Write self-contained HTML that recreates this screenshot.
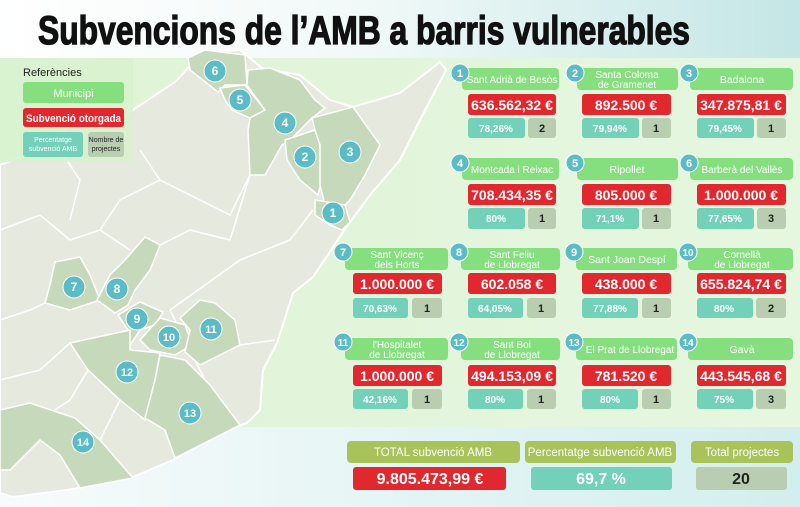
<!DOCTYPE html>
<html><head><meta charset="utf-8"><style>
html,body{margin:0;padding:0;width:800px;height:507px;overflow:hidden;background:#fff}
svg{display:block}
text{font-family:"Liberation Sans",sans-serif}
</style></head><body>
<svg width="800" height="507" viewBox="0 0 800 507" xmlns="http://www.w3.org/2000/svg">
<defs>
<linearGradient id="tb" x1="0" y1="0" x2="1" y2="0"><stop offset="0" stop-color="#ffffff"/><stop offset="0.45" stop-color="#f1f9f8"/><stop offset="1" stop-color="#c4e6e6"/></linearGradient>
<linearGradient id="gb" x1="0" y1="0" x2="1" y2="0"><stop offset="0" stop-color="#dff3d6"/><stop offset="1" stop-color="#e6f7e0"/></linearGradient>
<linearGradient id="bb" x1="0" y1="0" x2="1" y2="0"><stop offset="0" stop-color="#f7fbfb"/><stop offset="1" stop-color="#d3eeee"/></linearGradient>
</defs>
<rect x="0" y="0" width="800" height="58" fill="url(#tb)"/>
<rect x="0" y="58" width="800" height="370" fill="url(#gb)"/>
<rect x="0" y="427" width="800" height="80" fill="url(#bb)"/>
<text x="38" y="44" font-size="40" font-weight="bold" fill="#111" stroke="#111" stroke-width="1.3" textLength="652" lengthAdjust="spacingAndGlyphs">Subvencions de l’AMB a barris vulnerables</text>

<!-- land -->
<polygon fill="#e6e9de" stroke="#ffffff" stroke-width="2" points="0,165 40,150 70,125 130,112 175,82 203,52 240,50 262,68 300,75 330,100 353,107 400,93 440,62 446,70 420,120 400,160 370,195 350,222 343,232 313,277 293,293 277,343 263,370 260,410 247,423 233,428 173,460 133,477 67,490 13,497 0,493"/>
<g stroke="#ffffff" stroke-width="1.5" fill="none">
<path d="M0,230 L40,215 L70,240 L100,230 L130,250"/>
<path d="M0,320 L30,310 L45,303"/>
<path d="M0,380 L40,370 L70,343"/>
<path d="M160,245 L190,230 L230,240 L250,175"/>
<path d="M140,150 L160,180 L200,200 L230,215 L250,175"/>
<path d="M60,150 L80,180 L70,220"/>
<path d="M100,230 L120,200 L160,180"/>
<path d="M240,425 L215,400 L170,310 L240,260 L290,240 L313,210"/>
<path d="M60,455 L40,420 L70,400 L88,370"/>
<path d="M100,440 L120,400"/>
<path d="M240,345 L275,340"/>
</g>
<!-- highlighted -->
<g fill="#c7d9bb" stroke="#ffffff" stroke-width="1.5">
<polygon points="188,58 205,50 245,55 247,85 225,85 218,92 190,70"/>
<polygon points="220,88 245,85 265,110 250,118 232,110 225,100"/>
<polygon points="248,70 270,68 300,80 315,100 325,108 312,118 290,140 282,145 265,175 250,175 248,130 250,118 265,110 247,85"/>
<polygon points="285,140 315,130 320,145 322,180 318,195 300,180 287,160"/>
<polygon points="312,118 353,107 380,145 365,175 350,200 345,205 325,205 320,185 320,145 315,130"/>
<polygon points="315,200 345,205 350,222 342,230 330,225 315,215"/>
<polygon points="55,262 80,257 90,275 100,300 85,305 70,310 45,303 50,285"/>
<polygon points="145,237 160,245 150,270 135,290 128,305 115,313 97,300 110,275 125,260"/>
<polygon points="118,315 140,302 163,312 155,325 140,330 130,345 128,330"/>
<polygon points="140,340 160,318 185,325 192,345 175,355 150,350"/>
<polygon points="180,318 200,300 215,303 235,320 240,345 200,365 185,352 190,330"/>
<polygon points="70,343 130,330 130,350 160,353 155,380 145,420 120,400 88,370"/>
<polygon points="160,355 185,360 210,385 240,425 175,458 165,430 145,418 155,380"/>
<polygon points="0,410 30,403 75,418 100,440 133,478 80,488 60,455 40,440 10,470 0,470"/>
</g>
<!-- map circles -->
<g font-size="12" font-weight="bold" fill="#fff" text-anchor="middle">
<g fill="#5bbcc6" stroke="#ffffff" stroke-width="1">
<circle cx="215" cy="71" r="11"/><circle cx="240" cy="100" r="11"/><circle cx="285" cy="123" r="11"/><circle cx="305" cy="157" r="11"/><circle cx="350" cy="152" r="11"/><circle cx="333" cy="213" r="11"/><circle cx="74" cy="287" r="11"/><circle cx="117" cy="289" r="11"/><circle cx="137" cy="319" r="11"/><circle cx="169" cy="337" r="11"/><circle cx="211" cy="329" r="11"/><circle cx="127" cy="372" r="11"/><circle cx="190" cy="413" r="11"/><circle cx="83" cy="442" r="11"/>
</g>
<text x="215" y="75">6</text><text x="240" y="104">5</text><text x="285" y="127">4</text><text x="305" y="161">2</text><text x="350" y="156">3</text><text x="333" y="217">1</text><text x="74" y="291">7</text><text x="117" y="293">8</text><text x="137" y="323">9</text><text x="169" y="341" font-size="11">10</text><text x="211" y="333" font-size="11">11</text><text x="127" y="376" font-size="11">12</text><text x="190" y="417" font-size="11">13</text><text x="83" y="446" font-size="11">14</text>
</g>

<!-- legend -->
<rect x="0" y="58" width="133" height="104" fill="#d8f1cf" opacity="0.85"/>
<text x="23" y="76" font-size="11" fill="#222">Referències</text>
<rect x="23" y="82" width="101" height="21" rx="3" fill="#86df7e"/>
<text x="73.5" y="97" font-size="11" fill="#fff" text-anchor="middle">Municipi</text>
<rect x="23" y="108" width="101" height="19" rx="3" fill="#e0282e"/>
<text x="73.5" y="122" font-size="11" font-weight="bold" fill="#fff" text-anchor="middle" textLength="95" lengthAdjust="spacingAndGlyphs">Subvenció otorgada</text>
<rect x="23" y="132" width="60" height="25" rx="3" fill="#72d1b8"/>
<text x="53" y="142" font-size="7" fill="#fff" text-anchor="middle">Percentatge</text>
<text x="53" y="151" font-size="7" fill="#fff" text-anchor="middle">subvenció AMB</text>
<rect x="88" y="132" width="36" height="25" rx="3" fill="#b9cdb0"/>
<text x="106" y="142" font-size="7" fill="#222" text-anchor="middle">Nombre de</text>
<text x="106" y="151" font-size="7" fill="#222" text-anchor="middle">projectes</text>

<g font-size="11" fill="#fff" text-anchor="middle">
<!-- Row 1 -->
<g>
<rect x="462" y="68" width="97" height="22" rx="4" fill="#86df7e"/><rect x="468" y="94" width="88" height="21" rx="3" fill="#e0282e"/><rect x="468" y="118" width="57" height="20" rx="3" fill="#72d1b8"/><rect x="528" y="118" width="28" height="20" rx="3" fill="#b9cdb0"/>
<text x="512" y="83" font-size="10">Sant Adrià de Besòs</text><text x="512" y="110" font-size="14" font-weight="bold">636.562,32 €</text><text x="496" y="132" font-size="10" font-weight="bold">78,26%</text><text x="542" y="132" fill="#222" font-weight="bold">2</text>
<circle cx="460" cy="73" r="9" fill="#5bbcc6" stroke="#fff"/><text x="460" y="77" font-weight="bold">1</text>
</g>
<g>
<rect x="577" y="68" width="101" height="22" rx="4" fill="#86df7e"/><rect x="582" y="94" width="89" height="21" rx="3" fill="#e0282e"/><rect x="582" y="118" width="57" height="20" rx="3" fill="#72d1b8"/><rect x="642" y="118" width="29" height="20" rx="3" fill="#b9cdb0"/>
<text x="627" y="78" font-size="10">Santa Coloma</text><text x="627" y="88" font-size="10">de Gramenet</text><text x="626" y="110" font-size="14" font-weight="bold">892.500 €</text><text x="610" y="132" font-size="10" font-weight="bold">79,94%</text><text x="656" y="132" fill="#222" font-weight="bold">1</text>
<circle cx="575" cy="73" r="9" fill="#5bbcc6" stroke="#fff"/><text x="575" y="77" font-weight="bold">2</text>
</g>
<g>
<rect x="690" y="68" width="103" height="22" rx="4" fill="#86df7e"/><rect x="697" y="94" width="89" height="21" rx="3" fill="#e0282e"/><rect x="697" y="118" width="57" height="20" rx="3" fill="#72d1b8"/><rect x="757" y="118" width="29" height="20" rx="3" fill="#b9cdb0"/>
<text x="742" y="83" font-size="10.5">Badalona</text><text x="741" y="110" font-size="14" font-weight="bold">347.875,81 €</text><text x="725" y="132" font-size="10" font-weight="bold">79,45%</text><text x="771" y="132" fill="#222" font-weight="bold">1</text>
<circle cx="689" cy="73" r="9" fill="#5bbcc6" stroke="#fff"/><text x="689" y="77" font-weight="bold">3</text>
</g>
<!-- Row 2 -->
<g>
<rect x="462" y="158" width="97" height="22" rx="4" fill="#86df7e"/><rect x="468" y="184" width="88" height="21" rx="3" fill="#e0282e"/><rect x="468" y="208" width="57" height="21" rx="3" fill="#72d1b8"/><rect x="528" y="208" width="28" height="21" rx="3" fill="#b9cdb0"/>
<text x="512" y="173" font-size="10">Montcada i Reixac</text><text x="512" y="200" font-size="14" font-weight="bold">708.434,35 €</text><text x="496" y="222" font-size="10" font-weight="bold">80%</text><text x="542" y="222" fill="#222" font-weight="bold">1</text>
<circle cx="460" cy="163" r="9" fill="#5bbcc6" stroke="#fff"/><text x="460" y="167" font-weight="bold">4</text>
</g>
<g>
<rect x="577" y="158" width="101" height="22" rx="4" fill="#86df7e"/><rect x="582" y="184" width="89" height="21" rx="3" fill="#e0282e"/><rect x="582" y="208" width="57" height="21" rx="3" fill="#72d1b8"/><rect x="642" y="208" width="29" height="21" rx="3" fill="#b9cdb0"/>
<text x="627" y="173" font-size="10.5">Ripollet</text><text x="626" y="200" font-size="14" font-weight="bold">805.000 €</text><text x="610" y="222" font-size="10" font-weight="bold">71,1%</text><text x="656" y="222" fill="#222" font-weight="bold">1</text>
<circle cx="575" cy="163" r="9" fill="#5bbcc6" stroke="#fff"/><text x="575" y="167" font-weight="bold">5</text>
</g>
<g>
<rect x="690" y="158" width="103" height="22" rx="4" fill="#86df7e"/><rect x="697" y="184" width="89" height="21" rx="3" fill="#e0282e"/><rect x="697" y="208" width="57" height="21" rx="3" fill="#72d1b8"/><rect x="757" y="208" width="29" height="21" rx="3" fill="#b9cdb0"/>
<text x="742" y="173" font-size="10">Barberà del Vallès</text><text x="741" y="200" font-size="14" font-weight="bold">1.000.000 €</text><text x="725" y="222" font-size="10" font-weight="bold">77,65%</text><text x="771" y="222" fill="#222" font-weight="bold">3</text>
<circle cx="689" cy="163" r="9" fill="#5bbcc6" stroke="#fff"/><text x="689" y="167" font-weight="bold">6</text>
</g>
<!-- Row 3 -->
<g>
<rect x="345" y="248" width="103" height="22" rx="4" fill="#86df7e"/><rect x="353" y="273" width="89" height="21" rx="3" fill="#e0282e"/><rect x="353" y="298" width="55" height="20" rx="3" fill="#72d1b8"/><rect x="412" y="298" width="30" height="20" rx="3" fill="#b9cdb0"/>
<text x="397" y="258" font-size="10">Sant Vicenç</text><text x="397" y="268" font-size="10">dels Horts</text><text x="397" y="289" font-size="14" font-weight="bold">1.000.000 €</text><text x="380" y="312" font-size="10" font-weight="bold">70,63%</text><text x="427" y="312" fill="#222" font-weight="bold">1</text>
<circle cx="343" cy="252" r="9" fill="#5bbcc6" stroke="#fff"/><text x="343" y="256" font-weight="bold">7</text>
</g>
<g>
<rect x="461" y="248" width="99" height="22" rx="4" fill="#86df7e"/><rect x="468" y="273" width="88" height="21" rx="3" fill="#e0282e"/><rect x="468" y="298" width="55" height="20" rx="3" fill="#72d1b8"/><rect x="527" y="298" width="29" height="20" rx="3" fill="#b9cdb0"/>
<text x="512" y="258" font-size="10">Sant Feliu</text><text x="512" y="268" font-size="10">de Llobregat</text><text x="512" y="289" font-size="14" font-weight="bold">602.058 €</text><text x="495" y="312" font-size="10" font-weight="bold">64,05%</text><text x="541" y="312" fill="#222" font-weight="bold">1</text>
<circle cx="459" cy="252" r="9" fill="#5bbcc6" stroke="#fff"/><text x="459" y="256" font-weight="bold">8</text>
</g>
<g>
<rect x="576" y="248" width="101" height="22" rx="4" fill="#86df7e"/><rect x="582" y="273" width="89" height="21" rx="3" fill="#e0282e"/><rect x="582" y="298" width="56" height="20" rx="3" fill="#72d1b8"/><rect x="642" y="298" width="29" height="20" rx="3" fill="#b9cdb0"/>
<text x="627" y="263" font-size="10.5">Sant Joan Despí</text><text x="626" y="289" font-size="14" font-weight="bold">438.000 €</text><text x="610" y="312" font-size="10" font-weight="bold">77,88%</text><text x="656" y="312" fill="#222" font-weight="bold">1</text>
<circle cx="574" cy="252" r="9" fill="#5bbcc6" stroke="#fff"/><text x="574" y="256" font-weight="bold">9</text>
</g>
<g>
<rect x="688" y="248" width="105" height="22" rx="4" fill="#86df7e"/><rect x="697" y="273" width="89" height="21" rx="3" fill="#e0282e"/><rect x="697" y="298" width="56" height="20" rx="3" fill="#72d1b8"/><rect x="756" y="298" width="30" height="20" rx="3" fill="#b9cdb0"/>
<text x="742" y="258" font-size="10">Cornellà</text><text x="742" y="268" font-size="10">de Llobregat</text><text x="741" y="289" font-size="14" font-weight="bold">655.824,74 €</text><text x="724" y="312" font-size="10" font-weight="bold">80%</text><text x="771" y="312" fill="#222" font-weight="bold">2</text>
<circle cx="688" cy="252" r="9" fill="#5bbcc6" stroke="#fff"/><text x="688" y="256" font-weight="bold" font-size="10">10</text>
</g>
<!-- Row 4 -->
<g>
<rect x="345" y="338" width="103" height="22" rx="4" fill="#86df7e"/><rect x="353" y="365" width="89" height="21" rx="3" fill="#e0282e"/><rect x="353" y="389" width="55" height="20" rx="3" fill="#72d1b8"/><rect x="412" y="389" width="30" height="20" rx="3" fill="#b9cdb0"/>
<text x="397" y="348" font-size="10">l'Hospitalet</text><text x="397" y="358" font-size="10">de Llobregat</text><text x="397" y="381" font-size="14" font-weight="bold">1.000.000 €</text><text x="380" y="403" font-size="10" font-weight="bold">42,16%</text><text x="427" y="403" fill="#222" font-weight="bold">1</text>
<circle cx="343" cy="342" r="9" fill="#5bbcc6" stroke="#fff"/><text x="343" y="346" font-weight="bold" font-size="10">11</text>
</g>
<g>
<rect x="461" y="338" width="99" height="22" rx="4" fill="#86df7e"/><rect x="468" y="365" width="88" height="21" rx="3" fill="#e0282e"/><rect x="468" y="389" width="55" height="20" rx="3" fill="#72d1b8"/><rect x="527" y="389" width="29" height="20" rx="3" fill="#b9cdb0"/>
<text x="512" y="348" font-size="10">Sant Boi</text><text x="512" y="358" font-size="10">de Llobregat</text><text x="512" y="381" font-size="14" font-weight="bold">494.153,09 €</text><text x="495" y="403" font-size="10" font-weight="bold">80%</text><text x="541" y="403" fill="#222" font-weight="bold">1</text>
<circle cx="459" cy="342" r="9" fill="#5bbcc6" stroke="#fff"/><text x="459" y="346" font-weight="bold" font-size="10">12</text>
</g>
<g>
<rect x="576" y="338" width="101" height="22" rx="4" fill="#86df7e"/><rect x="582" y="365" width="89" height="21" rx="3" fill="#e0282e"/><rect x="582" y="389" width="56" height="20" rx="3" fill="#72d1b8"/><rect x="642" y="389" width="29" height="20" rx="3" fill="#b9cdb0"/>
<text x="630" y="353" font-size="10">El Prat de Llobregat</text><text x="626" y="381" font-size="14" font-weight="bold">781.520 €</text><text x="610" y="403" font-size="10" font-weight="bold">80%</text><text x="656" y="403" fill="#222" font-weight="bold">1</text>
<circle cx="574" cy="342" r="9" fill="#5bbcc6" stroke="#fff"/><text x="574" y="346" font-weight="bold" font-size="10">13</text>
</g>
<g>
<rect x="688" y="338" width="105" height="22" rx="4" fill="#86df7e"/><rect x="697" y="365" width="89" height="21" rx="3" fill="#e0282e"/><rect x="697" y="389" width="56" height="20" rx="3" fill="#72d1b8"/><rect x="756" y="389" width="30" height="20" rx="3" fill="#b9cdb0"/>
<text x="742" y="353" font-size="10.5">Gavà</text><text x="741" y="381" font-size="14" font-weight="bold">443.545,68 €</text><text x="724" y="403" font-size="10" font-weight="bold">75%</text><text x="771" y="403" fill="#222" font-weight="bold">3</text>
<circle cx="688" cy="342" r="9" fill="#5bbcc6" stroke="#fff"/><text x="688" y="346" font-weight="bold" font-size="10">14</text>
</g>

<!-- totals -->
<rect x="347" y="441" width="173" height="22" rx="4" fill="#a8c35a"/>
<text x="433" y="456" font-size="11.5">TOTAL subvenció AMB</text>
<rect x="353" y="467" width="153" height="23" rx="3" fill="#e0282e"/>
<text x="430" y="484" font-size="16" font-weight="bold">9.805.473,99 €</text>
<rect x="525" y="441" width="151" height="22" rx="4" fill="#a8c35a"/>
<text x="600" y="456" font-size="11.5">Percentatge subvenció AMB</text>
<rect x="531" y="467" width="141" height="23" rx="3" fill="#72d1b8"/>
<text x="601" y="484" font-size="16" font-weight="bold">69,7 %</text>
<rect x="691" y="441" width="102" height="22" rx="4" fill="#a8c35a"/>
<text x="742" y="456" font-size="11.5">Total projectes</text>
<rect x="696" y="467" width="91" height="23" rx="3" fill="#b9cdb0"/>
<text x="741" y="484" font-size="16" font-weight="bold" fill="#222">20</text>
</g>
</svg>
</body></html>
